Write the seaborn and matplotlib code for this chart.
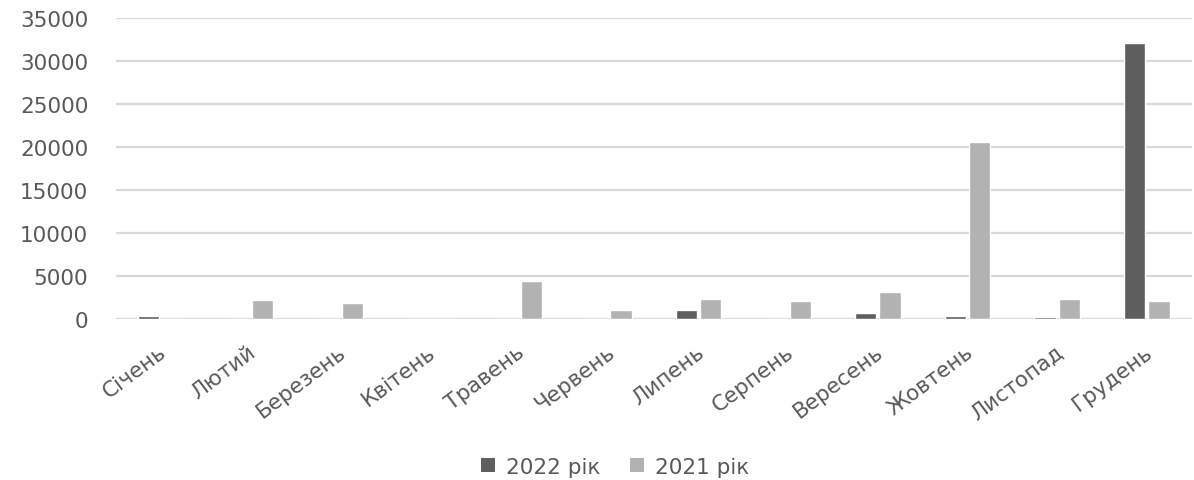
import matplotlib
matplotlib.use("Agg")
import matplotlib.pyplot as plt
import matplotlib.transforms as mtransforms
import seaborn as sns
import pandas as pd
from matplotlib.patches import Patch

months = ["Січень", "Лютий", "Березень", "Квітень", "Травень", "Червень",
          "Липень", "Серпень", "Вересень", "Жовтень", "Листопад", "Грудень"]
values_2022 = [400, 0, 0, 0, 0, 0, 1000, 0, 650, 300, 200, 32050]
values_2021 = [0, 2200, 1900, 0, 4400, 1000, 2350, 2050, 3100, 20600, 2350, 2050]
series_names = ["2022 рік", "2021 рік"]
yticks = [0, 5000, 10000, 15000, 20000, 25000, 30000, 35000]

colors = {"2022 рік": "#5e5e5e", "2021 рік": "#b2b2b2"}
text_color = "#595959"

df = pd.DataFrame({
    "month": months * 2,
    "value": values_2022 + values_2021,
    "series": [series_names[0]] * 12 + [series_names[1]] * 12,
})

sns.set_theme(style="white")
plt.rcParams["font.family"] = ["DejaVu Sans"]

fig = plt.figure(figsize=(11.94, 4.81), dpi=100)
ax = fig.add_axes([0.0972, 0.3347, 0.9008, 0.6268])

sns.barplot(data=df, x="month", y="value", hue="series", hue_order=series_names,
            palette=colors, width=0.54, gap=0.12, ax=ax, legend=False,
            saturation=1, errorbar=None)

ax.set_ylim(0, 35000)
ax.set_xlim(-0.5, 11.5)
ax.set_yticks(yticks)
ax.set_yticklabels([str(v) for v in yticks], fontsize=15.5, color=text_color)
ax.yaxis.grid(True, color="#d9d9d9", linewidth=1.6)
ax.set_axisbelow(True)
for s in ax.spines.values():
    s.set_visible(False)
ax.tick_params(axis="y", length=0, pad=20)
ax.tick_params(axis="x", length=0, pad=16)
ax.set_xlabel("")
ax.set_ylabel("")
ax.set_xticks(range(len(months)))
ax.set_xticklabels(months, rotation=37, ha="right", rotation_mode="anchor",
                   fontsize=15.5, color=text_color)
shift = mtransforms.ScaledTranslation(-3 / 100, 0, fig.dpi_scale_trans)
for lbl in ax.get_xticklabels():
    lbl.set_transform(lbl.get_transform() + shift)

handles = [Patch(facecolor=colors[n], edgecolor="none", label=n) for n in series_names]
fig.legend(handles=handles, loc="center", bbox_to_anchor=(0.515, 0.028), ncol=2,
           frameon=False, fontsize=15.5, labelcolor=text_color,
           handlelength=0.65, handleheight=0.65, handletextpad=0.5, columnspacing=1.4)

fig.savefig("out.png", dpi=100, facecolor="white")
